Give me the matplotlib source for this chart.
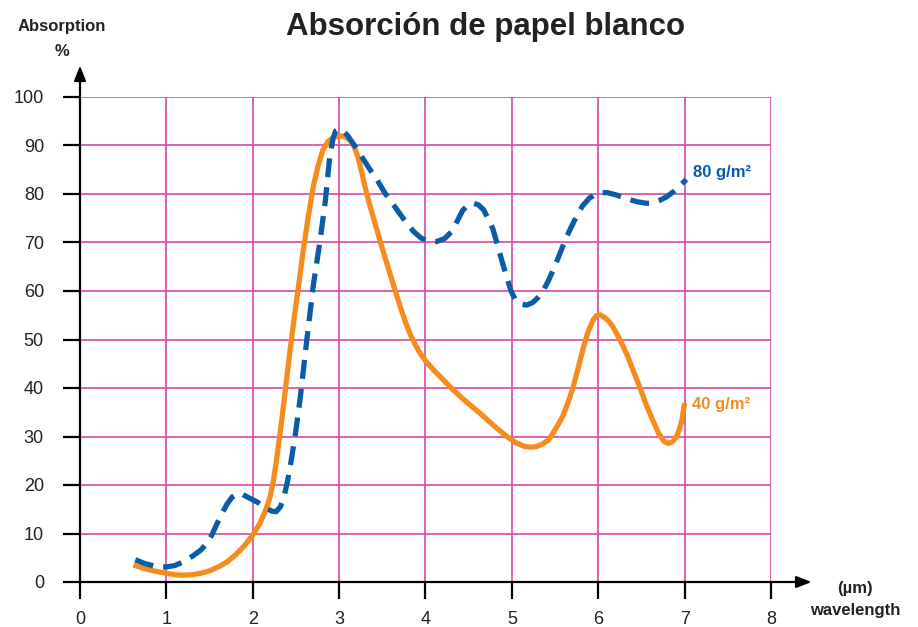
import matplotlib
matplotlib.use("Agg")
import matplotlib.pyplot as plt

# ---- data ----
x_80 = [0.64, 0.75, 0.88, 1.00, 1.10, 1.20, 1.30, 1.40, 1.47, 1.53, 1.58, 1.64, 1.70,
        1.76, 1.82, 1.88, 1.95, 2.05, 2.16, 2.22, 2.27, 2.32, 2.36, 2.40, 2.44, 2.49,
        2.55, 2.62, 2.70, 2.78, 2.84, 2.89, 2.93, 2.96, 3.00, 3.05, 3.10, 3.17, 3.24,
        3.34, 3.44, 3.53, 3.62, 3.74, 3.86, 3.95, 4.04, 4.13, 4.22, 4.30, 4.37, 4.43,
        4.50, 4.55, 4.61, 4.67, 4.73, 4.78, 4.83, 4.88, 4.94, 4.99, 5.04, 5.10, 5.17,
        5.24, 5.30, 5.36, 5.42, 5.49, 5.56, 5.63, 5.69, 5.76, 5.82, 5.90, 6.00, 6.10,
        6.21, 6.33, 6.45, 6.55, 6.62, 6.70, 6.79, 6.88, 6.95, 7.02]
y_80 = [4.6, 3.8, 3.2, 3.1, 3.4, 4.2, 5.3, 6.6, 8.0, 9.8, 11.8, 14.0, 16.0,
        17.5, 18.2, 18.1, 17.4, 16.5, 15.2, 14.6, 14.5, 15.5, 17.5, 20.5, 24.5, 30.0,
        38.0, 49.0, 61.0, 70.5, 78.5, 87.5, 91.5, 93.0, 93.4, 93.0, 92.0, 90.2, 88.3,
        85.5, 82.9, 80.2, 78.0, 75.0, 72.3, 70.9, 70.3, 70.2, 70.8, 72.2, 74.5, 76.6,
        77.9, 78.1, 77.8, 76.8, 74.8, 72.8, 69.7, 66.5, 62.9, 60.0, 58.2, 57.3, 57.1,
        57.6, 58.6, 60.0, 62.0, 64.8, 67.9, 71.0, 73.3, 75.8, 77.6, 79.2, 80.2, 80.3,
        79.8, 79.0, 78.4, 78.1, 78.1, 78.6, 79.4, 80.6, 81.8, 83.0]

x_40 = [0.62, 0.72, 0.85, 1.00, 1.10, 1.20, 1.30, 1.40, 1.50, 1.60, 1.70, 1.80, 1.90,
        2.00, 2.08, 2.15, 2.20, 2.24, 2.27, 2.30, 2.34, 2.38, 2.43, 2.48, 2.53, 2.58,
        2.64, 2.70, 2.76, 2.81, 2.87, 2.93, 3.00, 3.07, 3.13, 3.18, 3.22, 3.26, 3.30,
        3.35, 3.41, 3.47, 3.53, 3.59, 3.65, 3.71, 3.77, 3.83, 3.88, 3.94, 4.01, 4.10,
        4.20, 4.32, 4.45, 4.63, 4.78, 4.94, 5.05, 5.14, 5.21, 5.28, 5.35, 5.42, 5.48,
        5.54, 5.59, 5.65, 5.71, 5.77, 5.83, 5.88, 5.94, 5.98, 6.02, 6.07, 6.12, 6.17,
        6.25, 6.33, 6.40, 6.48, 6.55, 6.63, 6.70, 6.76, 6.81, 6.86, 6.90, 6.94, 6.97,
        7.00]
y_40 = [3.5, 2.9, 2.3, 1.8, 1.5, 1.4, 1.5, 1.8, 2.3, 3.1, 4.1, 5.6, 7.4,
        9.7, 12.0, 14.8, 17.5, 21.0, 24.5, 28.5, 34.0, 40.0, 47.5, 54.5, 61.0, 67.8,
        75.0, 81.5, 86.0, 89.0, 90.8, 91.6, 92.0, 91.8, 91.0, 89.5, 87.5, 84.6, 81.5,
        78.0, 74.3, 70.6, 67.0, 63.5, 60.0, 56.6, 53.5, 50.8, 49.0, 47.1, 45.4, 43.6,
        41.8, 39.6, 37.5, 34.8, 32.4, 30.0, 28.7, 28.0, 27.8, 27.9, 28.4, 29.2, 30.8,
        32.6, 34.2, 37.0, 40.2, 44.3, 48.5, 51.5, 54.0, 54.9, 55.1, 54.6, 53.8, 52.6,
        50.0, 47.0, 43.8, 40.2, 36.8, 33.4, 30.6, 29.0, 28.6, 28.9, 29.8, 31.5, 33.5,
        36.9]

x_ticks = [0, 1, 2, 3, 4, 5, 6, 7, 8]
y_ticks = [0, 10, 20, 30, 40, 50, 60, 70, 80, 90, 100]

title = "Absorción de papel blanco"
label_80 = "80 g/m²"
label_40 = "40 g/m²"

BLUE = "#0b5ca8"
ORANGE = "#f68b1f"
GRID = "#d6489f"
TXT = "#222222"
FONT = ["Liberation Sans", "DejaVu Sans"]

plt.rcParams["font.family"] = FONT

W, H = 918, 627
fig = plt.figure(figsize=(W / 100, H / 100), dpi=100)
x0, x1, yb, yt = 80, 771, 582, 97
ax = fig.add_axes([x0 / W, 1 - yb / H, (x1 - x0) / W, (yb - yt) / H])
ax.set_xlim(0, 8)
ax.set_ylim(0, 100)
for s in ax.spines.values():
    s.set_visible(False)

ax.set_xticks(x_ticks)
ax.set_yticks(y_ticks)
ax.tick_params(axis="both", direction="out", length=12, width=1.6, color="black",
               labelsize=13, labelcolor=TXT)
ax.tick_params(axis="y", pad=14)
ax.tick_params(axis="x", pad=9)
ax.grid(True, color=GRID, linewidth=1.2)
ax.set_axisbelow(True)

# axis lines with arrows
ax.annotate("", xy=(0, 106.5), xytext=(0, 0), xycoords="data",
            arrowprops=dict(arrowstyle="-|>,head_length=0.9,head_width=0.35",
                            color="black", lw=1.6, shrinkA=0, shrinkB=0),
            annotation_clip=False)
ax.annotate("", xy=(8.47, 0), xytext=(0, 0), xycoords="data",
            arrowprops=dict(arrowstyle="-|>,head_length=0.9,head_width=0.35",
                            color="black", lw=1.6, shrinkA=0, shrinkB=0),
            annotation_clip=False)

ax.plot(x_40, y_40, color=ORANGE, lw=3.8, solid_capstyle="butt",
        solid_joinstyle="round", clip_on=False, zorder=3)
ax.plot(x_80, y_80, color=BLUE, lw=3.8, dashes=(3.6, 1.9), dash_capstyle="butt",
        dash_joinstyle="round", clip_on=False, zorder=4)

ax.text(7.1, 84.5, label_80, color=BLUE, fontsize=12, fontweight="bold",
        ha="left", va="center")
ax.text(7.08, 36.5, label_40, color=ORANGE, fontsize=12, fontweight="bold",
        ha="left", va="center")

fig.text(486 / W, 1 - 27 / H, title, fontsize=22.5, fontweight="bold", color=TXT,
         ha="center", va="center")
fig.text(62 / W, 1 - 27 / H, "Absorption", fontsize=12, fontweight="bold",
         color=TXT, ha="center", va="center")
fig.text(62 / W, 1 - 51 / H, "%", fontsize=12, fontweight="bold",
         color=TXT, ha="center", va="center")
fig.text(855 / W, 1 - 588 / H, "(µm)", fontsize=12, fontweight="bold",
         color=TXT, ha="center", va="center")
fig.text(855 / W, 1 - 611 / H, "wavelength", fontsize=12, fontweight="bold",
         color=TXT, ha="center", va="center")

fig.savefig("out.png", dpi=100)
